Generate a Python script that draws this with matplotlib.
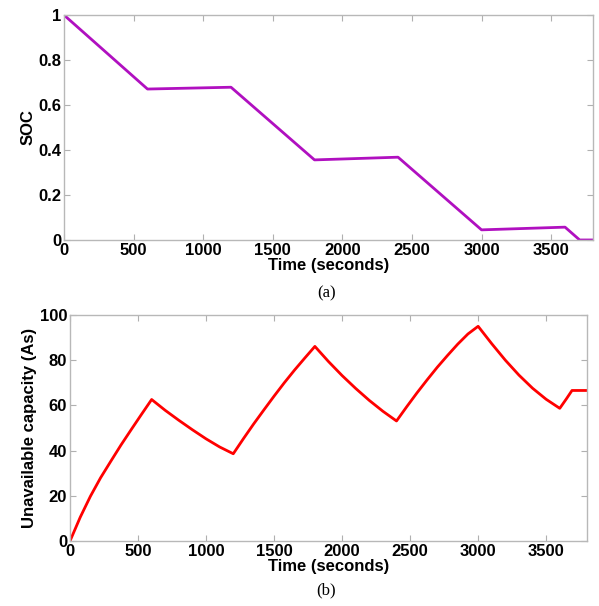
import matplotlib
matplotlib.use("Agg")
import matplotlib.pyplot as plt

# (a) state of charge
t_soc = [0, 600, 1200, 1800, 2400, 3000, 3600, 3705, 3800]
soc = [1.0, 0.671, 0.679, 0.356, 0.368, 0.045, 0.057, 0.0, 0.0]

# (b) unavailable capacity
t_cap = [0, 75, 150, 225, 300, 375, 450, 525, 600,
         700, 800, 900, 1000, 1100, 1200,
         1275, 1350, 1425, 1500, 1575, 1650, 1725, 1800,
         1900, 2000, 2100, 2200, 2300, 2400,
         2475, 2550, 2625, 2700, 2775, 2850, 2925, 3000,
         3100, 3200, 3300, 3400, 3500, 3600,
         3650, 3690, 3800]
cap = [0, 10.5, 19.8, 28.0, 35.3, 42.5, 49.3, 56.0, 62.6,
       57.8, 53.4, 49.2, 45.2, 41.6, 38.6,
       45.3, 51.8, 58.0, 64.1, 70.0, 75.6, 80.9, 86.1,
       79.4, 73.2, 67.5, 62.2, 57.4, 53.1,
       59.4, 65.5, 71.3, 76.9, 82.1, 87.1, 91.6, 95.0,
       87.3, 80.0, 73.4, 67.6, 62.7, 58.7,
       63.0, 66.6, 66.6]

plt.rcParams['font.family'] = ['Liberation Sans', 'DejaVu Sans']
plt.rcParams['font.size'] = 12
plt.rcParams['font.weight'] = 'bold'

fig = plt.figure(figsize=(5.99, 6.06), dpi=100)
ax1 = fig.add_axes([0.1068, 0.604, 0.883, 0.3712])
ax2 = fig.add_axes([0.1169, 0.1073, 0.863, 0.3729])

ax1.plot(t_soc, soc, color='#b010c0', lw=2)
ax1.set_xlim(0, 3800)
ax1.set_ylim(0, 1)
ax1.set_yticks([0, 0.2, 0.4, 0.6, 0.8, 1])
ax1.set_yticklabels(['0', '0.2', '0.4', '0.6', '0.8', '1'])
ax1.set_ylabel('SOC', fontweight='bold', labelpad=2)

ax2.plot(t_cap, cap, color='#ff0000', lw=2)
ax2.set_xlim(0, 3800)
ax2.set_ylim(0, 100)
ax2.set_yticks([0, 20, 40, 60, 80, 100])
ax2.set_ylabel('Unavailable capacity (As)', fontweight='bold', labelpad=2)

for ax in (ax1, ax2):
    ax.set_xticks([0, 500, 1000, 1500, 2000, 2500, 3000, 3500])
    ax.set_xlabel('Time (seconds)', fontweight='bold', labelpad=0)
    ax.tick_params(direction='in', length=4, color='#b0b0b0', top=True, right=True,
                   pad=2, labelsize=12)
    for s in ax.spines.values():
        s.set_color('#b8b8b8')
        s.set_linewidth(1)
    for lab in ax.get_xticklabels() + ax.get_yticklabels():
        lab.set_fontweight('bold')

fig.text(0.545, 1 - 293 / 606, '(a)', family='Liberation Serif', fontsize=12,
         fontweight='normal', ha='center', va='center')
fig.text(0.545, 1 - 590 / 606, '(b)', family='Liberation Serif', fontsize=12,
         fontweight='normal', ha='center', va='center')

fig.savefig('out.png', dpi=100)
